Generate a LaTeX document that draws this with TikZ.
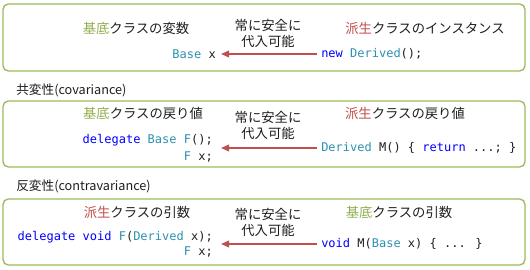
\documentclass[tikz,border=0pt]{standalone}
\usepackage{fontspec}
\setmainfont{Noto Sans CJK JP}
\newfontfamily\codefont{DejaVu Sans Mono}
\usetikzlibrary{arrows.meta}
\definecolor{boxgreen}{HTML}{9BBB59}
\definecolor{basegreen}{HTML}{8FAE50}
\definecolor{derivedred}{HTML}{C0504D}
\definecolor{kwblue}{HTML}{0000FF}
\definecolor{typeteal}{HTML}{2B91AF}
\definecolor{plain}{HTML}{1E1E1E}
\newcommand{\kw}[1]{\textcolor{kwblue}{#1}}
\newcommand{\ty}[1]{\textcolor{typeteal}{#1}}
\newcommand{\kiso}{\textcolor{basegreen}{基底}}
\newcommand{\hasei}{\textcolor{derivedred}{派生}}
\tikzset{
  panel/.style={draw=boxgreen, line width=1pt, rounded corners=4pt},
  jp/.style={inner sep=0pt, font=\fontsize{10}{12}\selectfont, text=plain},
  note/.style={inner sep=0pt, font=\fontsize{10}{12.5}\selectfont, text=plain, align=center},
  code/.style={inner sep=0pt, font=\codefont\fontsize{9}{11}\selectfont, text=plain},
  heading/.style={inner sep=0pt, anchor=west, font=\fontsize{9.5}{12}\selectfont, text=plain},
  arr/.style={draw=derivedred, line width=0.9pt, shorten <=3pt, -{Triangle[length=6pt,width=5pt]}}
}
\begin{document}
\begin{tikzpicture}[x=0.75pt,y=-0.75pt]
\useasboundingbox (0,0) rectangle (530,270);
% panels
\draw[panel] (3,4) rectangle (525,71);
\draw[panel] (3,101) rectangle (525,167);
\draw[panel] (3,199) rectangle (525,265);
% headings
\node[heading] (h2) at (16,90) {共変性(covariance)};
\node[heading] (h3) at (16,186) {反変性(contravariance)};
% panel 1
\node[jp] (t1l) at (136,28) {\kiso クラスの変数};
\node[jp] (t1r) at (425,28) {\hasei クラスのインスタンス};
\node[note] (n1) at (268,33.5) {常に安全に\\代入可能};
\node[code, anchor=east] (l1) at (216,54) {\ty{Base} x};
\node[code, anchor=west] (r1) at (321,54) {\kw{new} \ty{Derived}();};
\coordinate (a1) at (221,54);
\draw[arr] (r1.west) -- (a1);
% panel 2
\node[jp] (t2l) at (143,113) {\kiso クラスの戻り値};
\node[jp] (t2r) at (405,113) {\hasei クラスの戻り値};
\node[note] (n2) at (268,125.5) {常に安全に\\代入可能};
\node[code, anchor=east] (l2a) at (213,140) {\kw{delegate} \ty{Base} \ty{F}();};
\node[code, anchor=east] (l2b) at (213,157) {\ty{F} x;};
\node[code, anchor=west] (r2) at (321,148) {\ty{Derived} M() \{ \kw{return} ...; \}};
\coordinate (a2) at (221,148);
\draw[arr] (r2.west) -- (a2);
% panel 3
\node[jp] (t3l) at (137,212) {\hasei クラスの引数};
\node[jp] (t3r) at (399,212) {\kiso クラスの引数};
\node[note] (n3) at (268,222.5) {常に安全に\\代入可能};
\node[code, anchor=east] (l3a) at (213,237) {\kw{delegate} \kw{void} \ty{F}(\ty{Derived} x);};
\node[code, anchor=east] (l3b) at (213,252) {\ty{F} x;};
\node[code, anchor=west] (r3) at (321,244) {\kw{void} M(\ty{Base} x) \{ ... \}};
\coordinate (a3) at (221,244);
\draw[arr] (r3.west) -- (a3);
\end{tikzpicture}
\end{document}
